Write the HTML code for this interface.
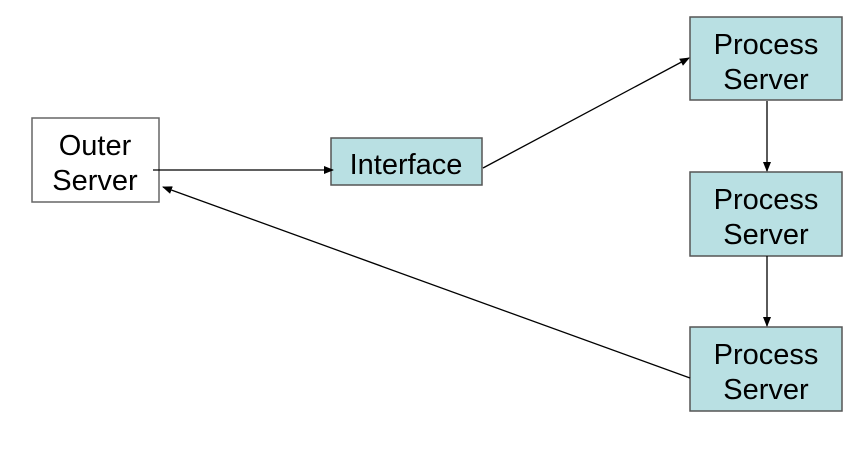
<!DOCTYPE html>
<html><head><meta charset="utf-8"><style>
html,body{margin:0;padding:0;background:#fff;}
</style></head><body>
<svg width="863" height="445" viewBox="0 0 863 445" xmlns="http://www.w3.org/2000/svg" font-family="Liberation Sans, Arial, sans-serif" font-size="29" text-anchor="middle" fill="#000">
<defs><marker id="a" markerWidth="10" markerHeight="8" refX="9" refY="4" orient="auto" markerUnits="userSpaceOnUse"><path d="M0,0 L10,4 L0,8 z" fill="#000"/></marker></defs>
<rect x="32" y="118" width="127" height="84" fill="#fff" stroke="#666" stroke-width="1.5"/>
<text x="95" y="155">Outer</text><text x="95" y="190">Server</text>
<rect x="331" y="138" width="151" height="47" fill="#b9e0e3" stroke="#555" stroke-width="1.5"/>
<text x="406" y="174">Interface</text>
<rect x="690" y="17" width="152" height="83" fill="#b9e0e3" stroke="#555" stroke-width="1.5"/>
<text x="766" y="54">Process</text><text x="766" y="89">Server</text>
<rect x="690" y="172" width="152" height="84" fill="#b9e0e3" stroke="#555" stroke-width="1.5"/>
<text x="766" y="209">Process</text><text x="766" y="244">Server</text>
<rect x="690" y="327" width="152" height="84" fill="#b9e0e3" stroke="#555" stroke-width="1.5"/>
<text x="766" y="364">Process</text><text x="766" y="399">Server</text>
<g stroke="#000" stroke-width="1.3" fill="none">
<line x1="153" y1="170" x2="333" y2="170" marker-end="url(#a)"/>
<line x1="483" y1="168" x2="689" y2="58" marker-end="url(#a)"/>
<line x1="767" y1="101" x2="767" y2="171" marker-end="url(#a)"/>
<line x1="767" y1="256" x2="767" y2="326" marker-end="url(#a)"/>
<line x1="690" y1="378" x2="163" y2="187" marker-end="url(#a)"/>
</g>
</svg>
</body></html>
